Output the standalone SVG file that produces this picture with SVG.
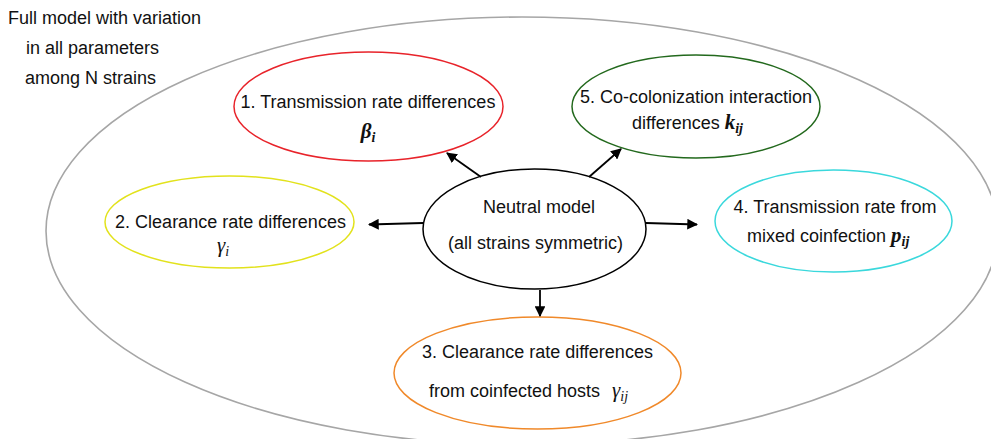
<svg xmlns="http://www.w3.org/2000/svg" width="991" height="439" viewBox="0 0 991 439">
<style>
  .t { font-family: "Liberation Sans", Arial, sans-serif; font-size: 18px; fill: #111; }
  .m { font-family: "Liberation Serif", "DejaVu Serif", serif; font-style: italic; font-size: 21px; fill: #111; }
  .mb { font-weight: bold; }
  .sub { font-size: 14px; }
  .node { fill: none; stroke-width: 1.5; }
  .conn line { stroke: #000; stroke-width: 1.8; }
</style>
<defs>
  <marker id="ah" viewBox="0 0 10 10" refX="9" refY="5" markerWidth="6" markerHeight="6" orient="auto" markerUnits="strokeWidth">
    <path d="M0,0 L10,5 L0,10 z" fill="#000"/>
  </marker>
</defs>
<rect width="991" height="439" fill="#fff"/>

<g id="full-model">
  <ellipse cx="522" cy="231" rx="476" ry="214" fill="none" stroke="#a6a6a6" stroke-width="1.6"/>
  <text class="t" x="8" y="24">Full model with variation</text>
  <text class="t" x="26" y="54">in all parameters</text>
  <text class="t" x="25" y="84">among N strains</text>
</g>

<g id="node-neutral">
  <ellipse class="node" cx="534.5" cy="229" rx="111.5" ry="60" stroke="#000"/>
  <text class="t" x="539" y="213" text-anchor="middle">Neutral model</text>
  <text class="t" x="535.5" y="249" text-anchor="middle">(all strains symmetric)</text>
</g>

<g id="node-1">
  <ellipse class="node" cx="368.5" cy="106.5" rx="134.5" ry="54.5" stroke="#e8232a"/>
  <text class="t" x="368" y="108" text-anchor="middle">1. Transmission rate differences</text>
  <text class="m mb" x="368" y="138" text-anchor="middle">β<tspan class="sub" dy="4">i</tspan></text>
</g>

<g id="node-5">
  <ellipse class="node" cx="696" cy="106.5" rx="124" ry="51.5" stroke="#23691d"/>
  <text class="t" x="696" y="103" text-anchor="middle">5. Co-colonization interaction</text>
  <text class="t" x="632" y="129">differences <tspan class="m mb">k</tspan><tspan class="m mb sub" dy="4">ij</tspan></text>
</g>

<g id="node-2">
  <ellipse class="node" cx="229.5" cy="222" rx="124.5" ry="46" stroke="#e2e21c"/>
  <text class="t" x="230.5" y="228" text-anchor="middle">2. Clearance rate differences</text>
  <text class="m" x="223" y="252" text-anchor="middle">γ<tspan class="sub" dy="4">i</tspan></text>
</g>

<g id="node-4">
  <ellipse class="node" cx="833.5" cy="221" rx="118.5" ry="51" stroke="#3ad8dc"/>
  <text class="t" x="835" y="213" text-anchor="middle">4. Transmission rate from</text>
  <text class="t" x="747" y="242">mixed coinfection <tspan class="m mb">p</tspan><tspan class="m mb sub" dy="4">ij</tspan></text>
</g>

<g id="node-3">
  <ellipse class="node" cx="537.5" cy="373" rx="143.5" ry="56" stroke="#f0892a"/>
  <text class="t" x="537.5" y="358" text-anchor="middle">3. Clearance rate differences</text>
  <text class="t" x="429" y="397">from coinfected hosts</text>
  <text class="m" x="612" y="397">γ<tspan class="sub" dy="4">ij</tspan></text>
</g>

<g id="connectors" class="conn">
  <line x1="481" y1="177" x2="447" y2="153" marker-end="url(#ah)"/>
  <line x1="589" y1="177" x2="621" y2="149" marker-end="url(#ah)"/>
  <line x1="423" y1="223" x2="369" y2="224.5" marker-end="url(#ah)"/>
  <line x1="646" y1="223" x2="697" y2="224.5" marker-end="url(#ah)"/>
  <line x1="540" y1="290" x2="540" y2="316" marker-end="url(#ah)"/>
</g>
</svg>
